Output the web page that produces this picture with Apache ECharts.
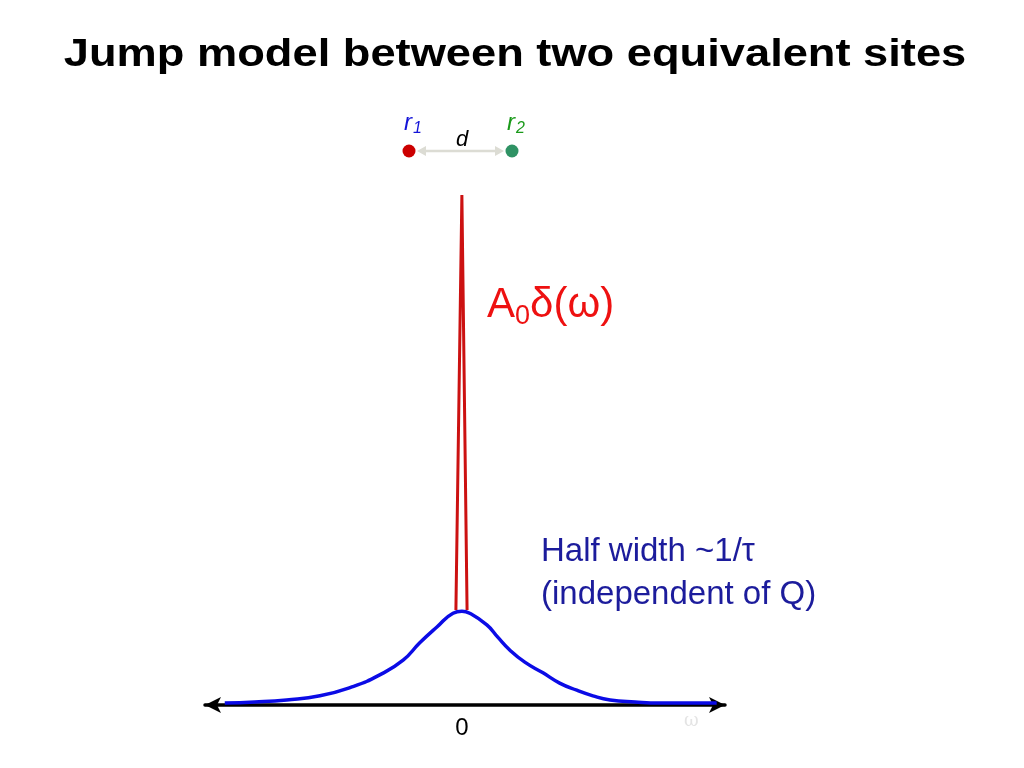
<!DOCTYPE html>
<html>
<head>
<meta charset="utf-8">
<script src="https://cdn.jsdelivr.net/npm/echarts@6/dist/echarts.min.js"></script>
<style>html,body{margin:0;padding:0;background:#fff}#c{width:1024px;height:768px}</style>
</head>
<body>
<div id="c"></div>
<script>
// Broad (quasi-elastic) Lorentzian component: [omega, intensity]
var broadOmega = [-4.56, -3.98, -3.37, -2.73, -2.10, -1.58, -1.13, -0.81, -0.48, -0.17, 0, 0.15, 0.48, 0.69, 0.92, 1.21, 1.56, 1.88, 2.21, 2.52, 2.85, 3.33, 3.81, 4.90];
var broadIntensity = [0.004, 0.006, 0.010, 0.018, 0.036, 0.059, 0.088, 0.122, 0.153, 0.180, 0.184, 0.180, 0.157, 0.133, 0.108, 0.084, 0.063, 0.043, 0.029, 0.018, 0.010, 0.006, 0.004, 0.004];
// Elastic delta peak drawn as a narrow spike
var deltaOmega = [-0.115, 0, 0.1];
var deltaIntensity = [0.186, 1.0, 0.186];
var xTickValues = [0];

function pairs(xs, ys) { return xs.map(function (x, i) { return [x, ys[i]]; }); }

var chart = echarts.init(document.getElementById('c'));
var font = '"Liberation Sans", Arial, sans-serif';
chart.setOption({
  animation: false,
  backgroundColor: '#ffffff',
  grid: { left: 205, width: 520, top: 195, bottom: 63, containLabel: false },
  xAxis: {
    type: 'value',
    min: -4.94,
    max: 5.06,
    splitLine: { show: false },
    axisTick: { show: false },
    axisLine: { show: true, onZero: true, symbol: ['arrow', 'arrow'], symbolSize: [12, 16], lineStyle: { color: '#000', width: 3.5 } },
    axisLabel: { customValues: xTickValues, formatter: function (v) { return String(Math.round(v)); }, margin: 11, fontSize: 24, color: '#000', fontFamily: font }
  },
  yAxis: { type: 'value', min: 0, max: 1, show: false },
  series: [
    {
      type: 'line', data: pairs(deltaOmega, deltaIntensity), symbol: 'none', z: 2,
      lineStyle: { color: '#cc1111', width: 3, join: 'miter' }
    },
    {
      type: 'line', data: pairs(broadOmega, broadIntensity), symbol: 'none', smooth: true, z: 3,
      lineStyle: { color: '#0b0be6', width: 3.5 }
    }
  ],
  graphic: [
    // title (horizontally stretched like the reference)
    { type: 'text', x: 515, y: 55, scaleX: 1.16, style: { text: 'Jump model between two equivalent sites', fontSize: 39, fontWeight: 'bold', fill: '#000', fontFamily: font, align: 'center', verticalAlign: 'middle' } },
    // two sites diagram
    { type: 'line', shape: { x1: 420, y1: 151, x2: 501, y2: 151 }, style: { stroke: '#dcdcd4', lineWidth: 2.5 } },
    { type: 'polygon', shape: { points: [[417, 151], [426, 146], [426, 156]] }, style: { fill: '#dcdcd4' } },
    { type: 'polygon', shape: { points: [[504, 151], [495, 146], [495, 156]] }, style: { fill: '#dcdcd4' } },
    { type: 'circle', shape: { cx: 409, cy: 151, r: 6.5 }, style: { fill: '#cc0000' } },
    { type: 'circle', shape: { cx: 512, cy: 151, r: 6.5 }, style: { fill: '#2f9264' } },
    { type: 'text', x: 404, y: 110, style: { text: '{a|r}{s|1}', rich: { a: { fontSize: 24, fontStyle: 'italic', fill: '#1414d8', fontFamily: font }, s: { fontSize: 16, fontStyle: 'italic', fill: '#1414d8', fontFamily: font, padding: [11, 0, 0, 1] } } } },
    { type: 'text', x: 507, y: 110, style: { text: '{a|r}{s|2}', rich: { a: { fontSize: 24, fontStyle: 'italic', fill: '#1a9a1a', fontFamily: font }, s: { fontSize: 16, fontStyle: 'italic', fill: '#1a9a1a', fontFamily: font, padding: [11, 0, 0, 1] } } } },
    { type: 'text', x: 456, y: 129, style: { text: 'd', fontSize: 22, fontStyle: 'italic', fill: '#000', fontFamily: font } },
    // delta label
    { type: 'text', x: 487, y: 281, style: { text: '{a|A}{s|0}{a|δ(ω)}', rich: { a: { fontSize: 42, fill: '#ee1111', fontFamily: font }, s: { fontSize: 27, fill: '#ee1111', fontFamily: font, padding: [22, 0, 0, 0] } } } },
    // broad label
    { type: 'text', x: 541, y: 552, style: { text: 'Half width ~1/τ', fontSize: 33, fill: '#1c1c9c', fontFamily: font, verticalAlign: 'middle' } },
    { type: 'text', x: 541, y: 595, style: { text: '(independent of Q)', fontSize: 33, fill: '#1c1c9c', fontFamily: font, verticalAlign: 'middle' } },
    // omega axis name (very faint)
    { type: 'text', x: 684, y: 712, style: { text: 'ω', fontSize: 18, fill: '#e4e4e4', fontFamily: 'DejaVu Serif' } }
  ]
});
</script>
</body>
</html>
